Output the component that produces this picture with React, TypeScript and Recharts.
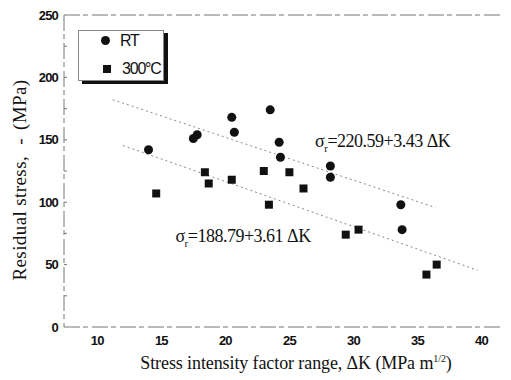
import {
  ScatterChart,
  Scatter,
  XAxis,
  YAxis,
  ZAxis,
  ReferenceLine,
  ReferenceDot,
  Label,
} from "recharts";

// measured residual stress vs stress intensity factor range
const rtDK = [14.0, 17.5, 17.8, 20.5, 20.7, 23.5, 24.2, 24.3, 28.2, 28.2, 33.7, 33.8];
const rtStress = [142, 151, 154, 168, 156, 174, 148, 136, 129, 120, 98, 78];

const hotDK = [14.6, 18.4, 18.7, 20.5, 23.0, 23.4, 25.0, 26.1, 29.4, 30.4, 35.7, 36.5];
const hotStress = [107, 124, 115, 118, 125, 98, 124, 111, 74, 78, 42, 50];

// linear fits (sigma_r = a - b * dK) and the dK range each one covers
const rtFit = { a: 220.59, b: 3.43, from: 11.2, to: 36.4 };
const hotFit = { a: 188.79, b: 3.61, from: 12.0, to: 39.7 };

const xTicks = [10, 15, 20, 25, 30, 35, 40];
const yTicks = [0, 25, 50, 75, 100, 125, 150, 175, 200, 225, 250];

const rtData = rtDK.map((x, i) => ({ x, y: rtStress[i] }));
const hotData = hotDK.map((x, i) => ({ x, y: hotStress[i] }));

const axisColor = "#777";
const sans = "Liberation Sans, Arial, sans-serif";
const tickFont = { fontFamily: sans, fontSize: 13, fontWeight: 600, letterSpacing: -0.8 };
const serif = "Liberation Serif, Times New Roman, serif";

const YTick = (props: any) => {
  const { x, y, payload } = props;
  const major = payload.value % 50 === 0;
  const ax = x + 6;
  return (
    <g>
      {major && (
        <text x={x} y={y} dy="0.36em" textAnchor="end" fill="#111" style={tickFont}>
          {payload.value}
        </text>
      )}
      {payload.value > 0 && payload.value < 250 && (
        <line x1={ax} x2={ax + 3} y1={y} y2={y} stroke={axisColor} />
      )}
    </g>
  );
};

const XTick = (props: any) => {
  const { x, y, payload } = props;
  return (
    <text x={x} y={y} dy="0.71em" textAnchor="middle" fill="#111" style={tickFont}>
      {payload.value}
    </text>
  );
};

const fitLabel = (a: number, b: number) => (p: any) =>
  (
    <text x={p.cx} y={p.cy} fill="#111" style={{ fontFamily: serif, fontSize: 18, letterSpacing: -0.5 }}>
      σ
      <tspan fontSize={11} dy={5}>r</tspan>
      <tspan dy={-5}>{`=${a.toFixed(2)}+${b.toFixed(2)} ΔK`}</tspan>
    </text>
  );

const LegendBox = () => (
  <div
    style={{
      position: "absolute",
      left: 70,
      top: 22,
      width: 86,
      height: 51,
      boxSizing: "border-box",
      border: "1px solid #888",
      background: "#fff",
      boxShadow: "4px 3px 0 #111",
      fontFamily: sans,
      fontSize: 16,
      letterSpacing: -1.2,
      color: "#111",
    }}
  >
    <span style={{ position: "absolute", left: 22, top: 5, width: 9, height: 9, borderRadius: 5, background: "#111" }} />
    <span style={{ position: "absolute", left: 41, top: 0, lineHeight: "20px" }}>RT</span>
    <span style={{ position: "absolute", left: 24, top: 34, width: 8, height: 8, background: "#111" }} />
    <span style={{ position: "absolute", left: 43, top: 28, lineHeight: "20px" }}>300°C</span>
  </div>
);

export default function App() {
  return (
    <div style={{ position: "relative", width: 503, height: 370 }}>
      <ScatterChart width={503} height={370} margin={{ top: 7, right: 9, bottom: 21, left: 0 }}>
        <XAxis
          type="number"
          dataKey="x"
          domain={[7.4, 41.6]}
          ticks={xTicks}
          tick={<XTick />}
          tickLine={false}
          tickSize={0}
          tickMargin={9}
          height={30}
          axisLine={{ stroke: axisColor, strokeDasharray: "16 3 5 4" }}
        >
          <Label
            content={(p: any) => {
              const vb = p.viewBox;
              return (
                <text
                  x={vb.x + vb.width / 2 + 13}
                  y={vb.y + 42}
                  textAnchor="middle"
                  fill="#111"
                  style={{ fontFamily: serif, fontSize: 18, letterSpacing: -0.1 }}
                >
                  Stress intensity factor range, ΔK (MPa m
                  <tspan fontSize={10} dy={-7}>1/2</tspan>
                  <tspan dy={7}>)</tspan>
                </text>
              );
            }}
          />
        </XAxis>
        <YAxis
          type="number"
          dataKey="y"
          domain={[0, 250]}
          ticks={yTicks}
          interval={0}
          tick={<YTick />}
          tickLine={false}
          tickSize={0}
          tickMargin={6}
          width={56}
          axisLine={{ stroke: axisColor, strokeDasharray: "16 3 5 4" }}
        >
          <Label
            content={(p: any) => {
              const vb = p.viewBox;
              const cx = 18;
              const cy = vb.y + vb.height / 2 + 9;
              return (
                <text
                  x={cx}
                  y={cy}
                  transform={`rotate(-90 ${cx} ${cy})`}
                  textAnchor="middle"
                  fill="#111"
                  style={{ fontFamily: serif, fontSize: 19, letterSpacing: 0.4 }}
                >
                  Residual stress, <tspan dx={6}>-</tspan>
                  <tspan dx={8}>(MPa)</tspan>
                </text>
              );
            }}
          />
        </YAxis>
        <ZAxis range={[80, 80]} />
        <ReferenceLine y={250} stroke={axisColor} strokeDasharray="16 3 5 4" />
        <ReferenceLine
          segment={[
            { x: rtFit.from, y: rtFit.a - rtFit.b * rtFit.from },
            { x: rtFit.to, y: rtFit.a - rtFit.b * rtFit.to },
          ]}
          stroke="#888"
          strokeDasharray="2 3"
          ifOverflow="visible"
        />
        <ReferenceLine
          segment={[
            { x: hotFit.from, y: hotFit.a - hotFit.b * hotFit.from },
            { x: hotFit.to, y: hotFit.a - hotFit.b * hotFit.to },
          ]}
          stroke="#888"
          strokeDasharray="2 3"
          ifOverflow="visible"
        />
        <Scatter name="RT" data={rtData} fill="#111" shape="circle" isAnimationActive={false} />
        <Scatter name="300°C" data={hotData} fill="#111" shape="square" isAnimationActive={false} />
        <ReferenceDot x={27.0} y={144} r={0} ifOverflow="visible" shape={fitLabel(rtFit.a, rtFit.b)} />
        <ReferenceDot x={16.1} y={68} r={0} ifOverflow="visible" shape={fitLabel(hotFit.a, hotFit.b)} />
      </ScatterChart>
      <LegendBox />
    </div>
  );
}
